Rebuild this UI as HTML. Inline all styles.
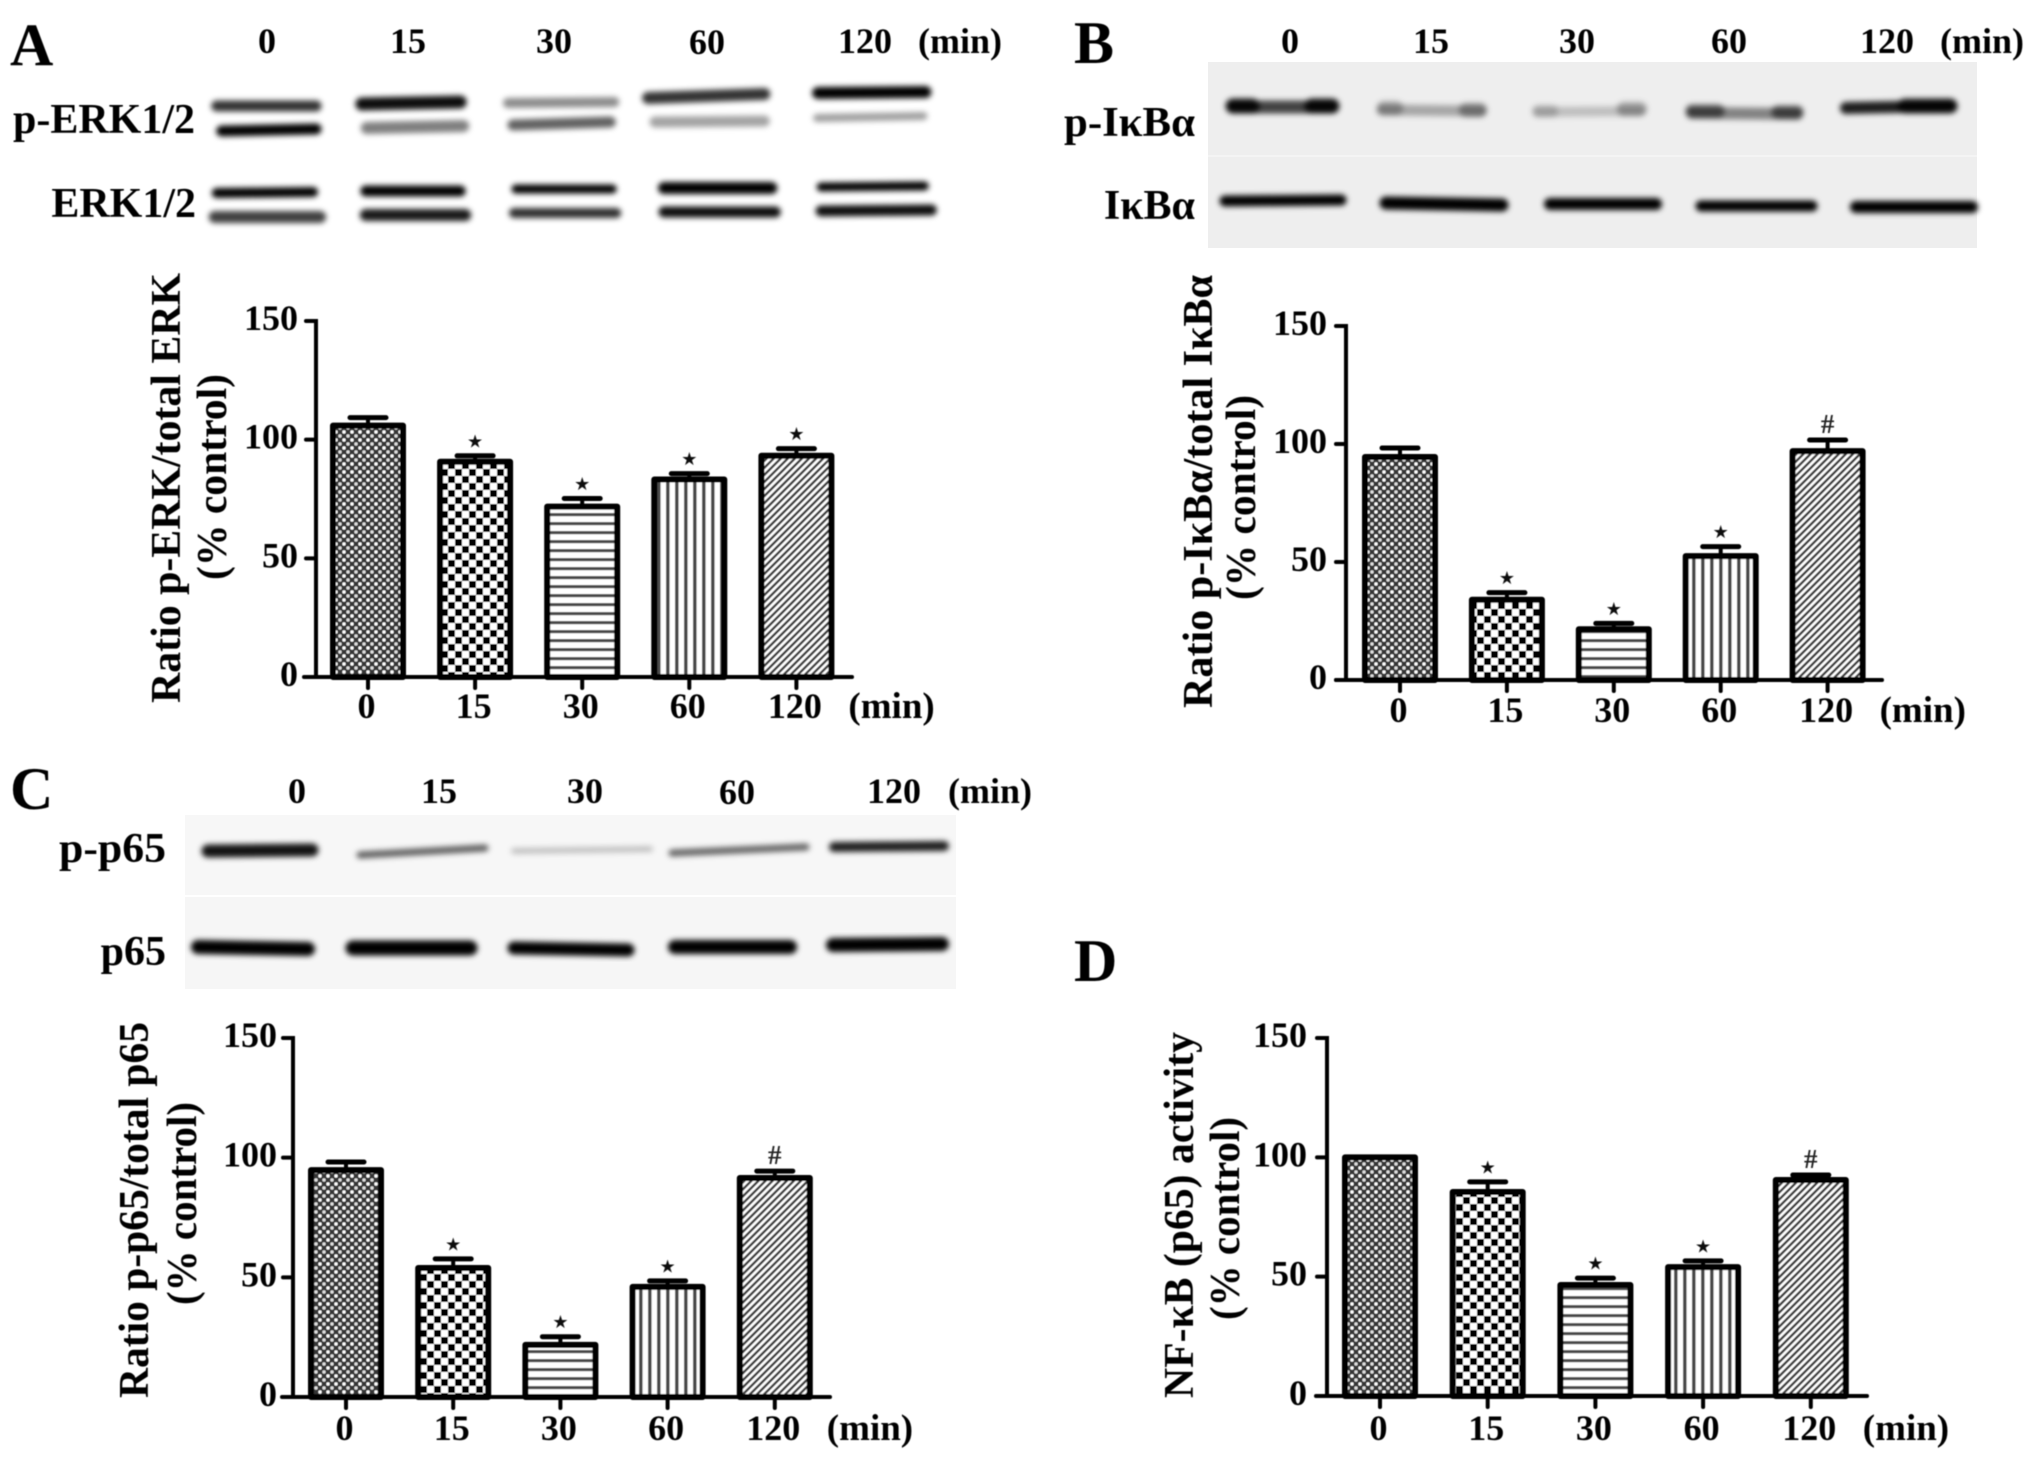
<!DOCTYPE html>
<html lang="en">
<head>
<meta charset="utf-8">
<title>Time course of ERK, IκBα and NF-κB p65 phosphorylation</title>
<style>
html,body{margin:0;padding:0;background:#fff;}
svg{display:block;}
text{font-family:"Liberation Serif","DejaVu Serif",serif;font-weight:bold;fill:#000;}
.tk{font-size:36px;}
.lane{font-size:36px;text-anchor:middle;}
.row{font-size:42px;text-anchor:end;}
.letter{font-size:60px;}
.ttl{font-size:42px;}
</style>
</head>
<body>
<svg id="figure" xmlns="http://www.w3.org/2000/svg" width="2031" height="1464" viewBox="0 0 2031 1464">
<defs>
<filter id="soft" x="-5%" y="-5%" width="110%" height="110%"><feGaussianBlur stdDeviation="0.55"/></filter>
<filter id="bandBlur" x="-10%" y="-200%" width="120%" height="500%"><feGaussianBlur stdDeviation="3"/></filter>
<pattern id="fill-dots" patternUnits="userSpaceOnUse" width="8" height="8">
<rect width="8" height="8" fill="#363636"/>
<circle cx="0" cy="0" r="1.7" fill="#fff"/><circle cx="8" cy="0" r="1.7" fill="#fff"/><circle cx="0" cy="8" r="1.7" fill="#fff"/><circle cx="8" cy="8" r="1.7" fill="#fff"/><circle cx="4" cy="4" r="1.7" fill="#e0e0e0"/>
</pattern>
<pattern id="fill-check" patternUnits="userSpaceOnUse" width="14" height="14">
<rect width="14" height="14" fill="#fff"/>
<rect x="0" y="0" width="7" height="7" fill="#000"/><rect x="7" y="7" width="7" height="7" fill="#000"/>
</pattern>
<pattern id="fill-hlines" patternUnits="userSpaceOnUse" width="9" height="9">
<rect width="9" height="9" fill="#fff"/><rect y="0" width="9" height="3.2" fill="#4a4a4a"/>
</pattern>
<pattern id="fill-vlines" patternUnits="userSpaceOnUse" width="9" height="9">
<rect width="9" height="9" fill="#fff"/><rect x="0" width="3.6" height="9" fill="#4a4a4a"/>
</pattern>
<pattern id="fill-diag" patternUnits="userSpaceOnUse" width="5" height="5" patternTransform="rotate(45)">
<rect width="5" height="5" fill="#fff"/><rect x="0" width="2.5" height="5" fill="#3c3c3c"/>
</pattern>
</defs>

<rect width="2031" height="1464" fill="#fff"/>

<!-- Blot backgrounds -->
<rect x="1208" y="62" width="769" height="186" fill="#eeeeee"/>
<rect x="1208" y="155" width="769" height="2" fill="#f4f4f4"/>
<rect x="185" y="815" width="771" height="80" fill="#f7f7f7"/>
<rect x="185" y="897" width="771" height="92" fill="#f6f6f6"/>

<!-- Blot A -->
<g filter="url(#bandBlur)" stroke="#000" stroke-linecap="round" transform="scale(.994,1)">
<line x1="218" y1="106" x2="318" y2="106" stroke-width="11" opacity=".8"/>
<line x1="364" y1="104" x2="463" y2="102" stroke-width="13" opacity=".95"/>
<line x1="511" y1="103" x2="618" y2="102" stroke-width="10" opacity=".45"/>
<line x1="652" y1="98" x2="769" y2="94" stroke-width="12" opacity=".8"/>
<line x1="823" y1="93" x2="931" y2="92" stroke-width="12" opacity="1"/>
<line x1="223" y1="131" x2="318" y2="129" stroke-width="11" opacity="1"/>
<line x1="369" y1="128" x2="466" y2="126" stroke-width="12" opacity=".5"/>
<line x1="516" y1="125" x2="614" y2="122" stroke-width="11" opacity=".62"/>
<line x1="659" y1="122" x2="769" y2="121" stroke-width="11" opacity=".36"/>
<line x1="822" y1="118" x2="929" y2="116" stroke-width="8" opacity=".38"/>
</g>
<g filter="url(#bandBlur)" stroke="#000" stroke-linecap="round" transform="scale(.994,1)">
<line x1="218" y1="193" x2="315" y2="192" stroke-width="10"/>
<line x1="368" y1="191" x2="463" y2="191" stroke-width="11"/>
<line x1="519" y1="189" x2="616" y2="189" stroke-width="9"/>
<line x1="668" y1="188" x2="776" y2="188" stroke-width="12"/>
<line x1="826" y1="187" x2="930" y2="186" stroke-width="9"/>
<line x1="216" y1="217" x2="322" y2="217" stroke-width="12" opacity=".75"/>
<line x1="368" y1="215" x2="468" y2="215" stroke-width="12" opacity=".9"/>
<line x1="517" y1="213" x2="620" y2="213" stroke-width="10" opacity=".82"/>
<line x1="668" y1="212" x2="780" y2="212" stroke-width="11" opacity=".95"/>
<line x1="826" y1="211" x2="937" y2="210" stroke-width="11" opacity=".95"/>
</g>

<!-- Blot B -->
<g filter="url(#bandBlur)" stroke="#000" stroke-linecap="round">
<line x1="1233" y1="107" x2="1332" y2="107" stroke-width="13" opacity=".72"/>
<line x1="1233" y1="106" x2="1252" y2="106" stroke-width="15" opacity=".9"/>
<line x1="1312" y1="106" x2="1332" y2="106" stroke-width="15" opacity=".9"/>
<line x1="1382" y1="110" x2="1481" y2="111" stroke-width="11" opacity=".3"/>
<line x1="1384" y1="108" x2="1396" y2="108" stroke-width="14" opacity=".28"/>
<line x1="1466" y1="110" x2="1480" y2="110" stroke-width="14" opacity=".35"/>
<line x1="1538" y1="112" x2="1640" y2="111" stroke-width="10" opacity=".2"/>
<line x1="1538" y1="111" x2="1552" y2="111" stroke-width="12" opacity=".18"/>
<line x1="1624" y1="109" x2="1640" y2="109" stroke-width="14" opacity=".3"/>
<line x1="1692" y1="113" x2="1797" y2="114" stroke-width="12" opacity=".45"/>
<line x1="1692" y1="111" x2="1718" y2="111" stroke-width="13" opacity=".55"/>
<line x1="1778" y1="112" x2="1797" y2="112" stroke-width="13" opacity=".55"/>
<line x1="1846" y1="108" x2="1951" y2="106" stroke-width="12" opacity=".88"/>
<line x1="1905" y1="106" x2="1950" y2="106" stroke-width="15" opacity=".85"/>
</g>
<g filter="url(#bandBlur)" stroke="#000" stroke-linecap="round">
<line x1="1225" y1="201" x2="1341" y2="200" stroke-width="11"/>
<line x1="1386" y1="203" x2="1502" y2="205" stroke-width="13"/>
<line x1="1550" y1="204" x2="1656" y2="204" stroke-width="12"/>
<line x1="1701" y1="206" x2="1812" y2="206" stroke-width="11"/>
<line x1="1856" y1="207" x2="1972" y2="207" stroke-width="12"/>
</g>

<!-- Blot C -->
<g filter="url(#bandBlur)" stroke="#000" stroke-linecap="round">
<line x1="208" y1="851" x2="312" y2="850" stroke-width="13" opacity=".92"/>
<line x1="360" y1="855" x2="485" y2="848" stroke-width="7" opacity=".62"/>
<line x1="514" y1="851" x2="650" y2="849" stroke-width="6" opacity=".22"/>
<line x1="672" y1="853" x2="806" y2="847" stroke-width="7" opacity=".6"/>
<line x1="834" y1="847" x2="944" y2="846" stroke-width="10" opacity=".88"/>
</g>
<g filter="url(#bandBlur)" stroke="#000" stroke-linecap="round">
<line x1="198" y1="947" x2="308" y2="949" stroke-width="14"/>
<line x1="353" y1="948" x2="470" y2="948" stroke-width="15"/>
<line x1="514" y1="948" x2="628" y2="950" stroke-width="13"/>
<line x1="675" y1="947" x2="790" y2="947" stroke-width="14"/>
<line x1="833" y1="945" x2="942" y2="944" stroke-width="14"/>
</g>

<g filter="url(#soft)">
<!-- Panel letters -->
<text class="letter" x="10" y="65">A</text>
<text class="letter" x="1074" y="63">B</text>
<text class="letter" x="10" y="809">C</text>
<text class="letter" x="1074" y="981">D</text>

<!-- Lane labels -->
<text class="lane" x="267" y="53">0</text>
<text class="lane" x="408" y="53">15</text>
<text class="lane" x="554" y="53">30</text>
<text class="lane" x="707" y="54">60</text>
<text class="lane" x="865" y="53">120</text>
<text class="lane" x="960" y="53">(min)</text>
<text class="lane" x="1290" y="53">0</text>
<text class="lane" x="1431" y="53">15</text>
<text class="lane" x="1577" y="53">30</text>
<text class="lane" x="1729" y="53">60</text>
<text class="lane" x="1887" y="53">120</text>
<text class="lane" x="1982" y="53">(min)</text>
<text class="lane" x="297" y="803">0</text>
<text class="lane" x="439" y="803">15</text>
<text class="lane" x="585" y="803">30</text>
<text class="lane" x="737" y="804">60</text>
<text class="lane" x="894" y="803">120</text>
<text class="lane" x="990" y="803">(min)</text>

<!-- Row labels -->
<text class="row" x="195" y="133">p-ERK1/2</text>
<text class="row" x="196" y="217">ERK1/2</text>
<text class="row" x="1195" y="136" textLength="131" lengthAdjust="spacingAndGlyphs">p-IκBα</text>
<text class="row" x="1195" y="219">IκBα</text>
<text class="row" x="166" y="862" textLength="107" lengthAdjust="spacingAndGlyphs">p-p65</text>
<text class="row" x="166" y="965">p65</text>

<!-- Y-axis titles -->
<text class="ttl" transform="translate(180,703) rotate(-90)" textLength="430" lengthAdjust="spacingAndGlyphs">Ratio p-ERK/total ERK</text>
<text class="ttl" transform="translate(226,580) rotate(-90)" textLength="206" lengthAdjust="spacingAndGlyphs">(% control)</text>
<text class="ttl" transform="translate(1212,708) rotate(-90)" textLength="433" lengthAdjust="spacingAndGlyphs">Ratio p-IκBα/total IκBα</text>
<text class="ttl" transform="translate(1255,600) rotate(-90)" textLength="205" lengthAdjust="spacingAndGlyphs">(% control)</text>
<text class="ttl" transform="translate(148,1398) rotate(-90)" textLength="376" lengthAdjust="spacingAndGlyphs">Ratio p-p65/total p65</text>
<text class="ttl" transform="translate(196,1305) rotate(-90)" textLength="203" lengthAdjust="spacingAndGlyphs">(% control)</text>
<text class="ttl" transform="translate(1193,1398) rotate(-90)" textLength="366" lengthAdjust="spacingAndGlyphs">NF-κB (p65) activity</text>
<text class="ttl" transform="translate(1239,1320) rotate(-90)" textLength="203" lengthAdjust="spacingAndGlyphs">(% control)</text>
</g>

<g id="charts" filter="url(#soft)"></g>
</svg>

<script>
// Shared categories and axis ticks
const timeCategories = ["0", "15", "30", "60", "120"];
const yTickValues = [0, 50, 100, 150];
const yMax = 150;
const barFills = ["fill-dots", "fill-check", "fill-hlines", "fill-vlines", "fill-diag"];

// Panel A: ratio p-ERK / total ERK
const erkValues = [105.9, 90.7, 71.8, 83.2, 93.2];
const erkErrors = [3.4, 2.5, 3.4, 2.5, 3.0];
const erkMarks = ["", "★", "★", "★", "★"];

// Panel B: ratio p-IκBα / total IκBα
const ikbaValues = [94.5, 34, 21.5, 52.5, 97];
const ikbaErrors = [3.8, 3.0, 2.5, 4.0, 4.7];
const ikbaMarks = ["", "★", "★", "★", "#"];

// Panel C: ratio p-p65 / total p65
const p65Values = [94.8, 53.9, 21.8, 46, 91.5];
const p65Errors = [3.4, 3.8, 3.4, 2.5, 2.9];
const p65Marks = ["", "★", "★", "★", "#"];

// Panel D: NF-κB (p65) activity
const nfkbValues = [100, 85.5, 46.5, 54, 90.5];
const nfkbErrors = [0, 4.2, 2.9, 2.6, 2.1];
const nfkbMarks = ["", "★", "★", "★", "#"];

const panels = [
  {id: "a", values: erkValues, errors: erkErrors, marks: erkMarks, axisX: 316, y0: 677, yTop: 321, firstTick: 368, step: 107.1, xStart: 304, xEnd: 852, gap: 18, labelDrop: 41},
  {id: "b", values: ikbaValues, errors: ikbaErrors, marks: ikbaMarks, axisX: 1346, y0: 680, yTop: 326, firstTick: 1400, step: 106.9, xStart: 1336, xEnd: 1882, gap: 19, labelDrop: 42},
  {id: "c", values: p65Values, errors: p65Errors, marks: p65Marks, axisX: 293, y0: 1397, yTop: 1038, firstTick: 346, step: 107.2, xStart: 282, xEnd: 830, gap: 16, labelDrop: 43},
  {id: "d", values: nfkbValues, errors: nfkbErrors, marks: nfkbMarks, axisX: 1327, y0: 1396, yTop: 1038, firstTick: 1380, step: 107.7, xStart: 1316, xEnd: 1867, gap: 20, labelDrop: 44}
];

const NS = "http://www.w3.org/2000/svg";
const chartsRoot = document.getElementById("charts");

function make(parent, tag, attrs, text) {
  const el = document.createElementNS(NS, tag);
  for (const k in attrs) el.setAttribute(k, attrs[k]);
  if (text !== undefined) el.textContent = text;
  parent.appendChild(el);
  return el;
}

function strokeLine(parent, x1, y1, x2, y2, w, cap) {
  return make(parent, "line", {x1: x1, y1: y1, x2: x2, y2: y2, stroke: "#000", "stroke-width": w, "stroke-linecap": cap || "round"});
}

panels.forEach(function (p) {
  const yScale = function (v) { return p.y0 - (v / yMax) * (p.y0 - p.yTop); };
  const xScale = function (i) { return p.firstTick + i * p.step; };

  const chart = make(chartsRoot, "g", {});
  
  

  // Bars and error bars
  p.values.forEach(function (v, i) {
    const cx = xScale(i);
    const top = yScale(v);
    const errTop = yScale(v + p.errors[i]);

    if (p.errors[i] > 0) {
      const err = make(chart, "g", {});
      
      
      strokeLine(err, cx, top, cx, errTop, 4, "butt");
      strokeLine(err, cx - 18, errTop, cx + 18, errTop, 5);
    }

    const bar = make(chart, "rect", {
      x: cx - 35, y: top, width: 70, height: p.y0 - top,
      fill: "url(#" + barFills[i] + ")", stroke: "#000", "stroke-width": 6, "stroke-linejoin": "round"
    });
    
    

    if (p.marks[i] === "★") {
      const star = make(chart, "text", {x: cx, y: errTop - 8.5, "text-anchor": "middle", style: "font-family:'DejaVu Sans',sans-serif;font-size:18px;font-weight:normal;fill:#111"}, p.marks[i]);
      
      
    } else if (p.marks[i] === "#") {
      const hash = make(chart, "text", {x: cx, y: errTop - 7, "text-anchor": "middle", style: "font-size:27px;fill:#222"}, p.marks[i]);
      
      
    }
  });

  // Y axis
  const yAxis = make(chart, "g", {});
  
  
  strokeLine(yAxis, p.axisX, p.yTop, p.axisX, p.y0, 4, "square");
  yTickValues.forEach(function (t) {
    const y = yScale(t);
    const tick = strokeLine(yAxis, p.axisX - 10, y, p.axisX, y, 4);
    
    
    const lab = make(yAxis, "text", {class: "tk", x: p.axisX - p.gap, y: y + 9, "text-anchor": "end"}, String(t));
    
    
  });

  // X axis
  const xAxis = make(chart, "g", {});
  
  
  strokeLine(xAxis, p.xStart, p.y0, p.xEnd, p.y0, 4);
  timeCategories.forEach(function (c, i) {
    const x = xScale(i);
    const tick = strokeLine(xAxis, x, p.y0, x, p.y0 + 11, 4);
    
    
    const lab = make(xAxis, "text", {class: "tk", x: x - 1.5, y: p.y0 + p.labelDrop, "text-anchor": "middle"}, c);
    
    
  });
  const unit = make(xAxis, "text", {class: "tk", x: xScale(timeCategories.length - 1) + 52, y: p.y0 + p.labelDrop, style: "font-size:37px"}, "(min)");
  
  
});
</script>
</body>
</html>
